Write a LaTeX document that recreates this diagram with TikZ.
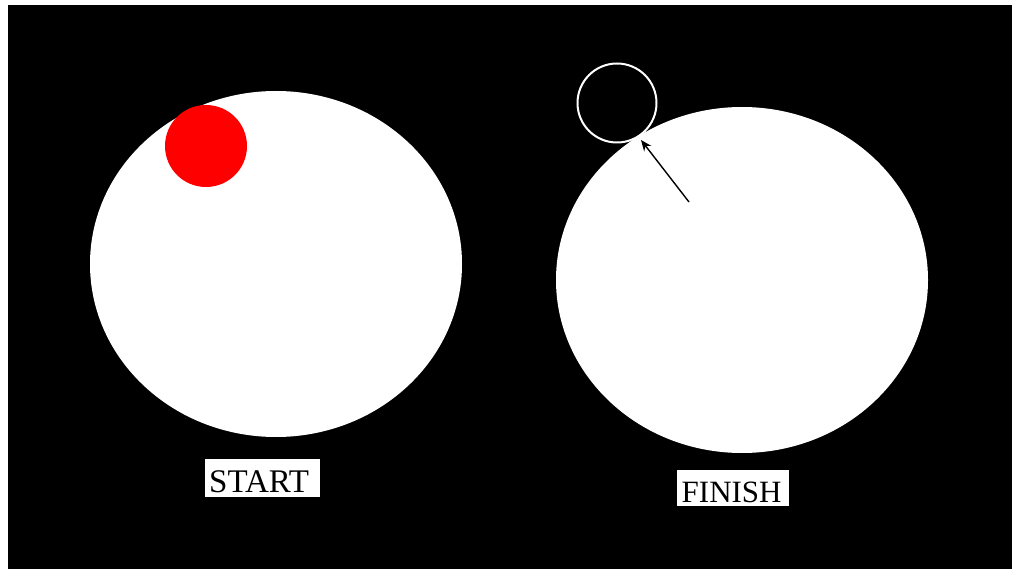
\documentclass[tikz,border=0pt]{standalone}
\usepackage{fontspec}
\setmainfont{Liberation Serif}
\usetikzlibrary{arrows.meta}
\begin{document}
\begin{tikzpicture}[x=1pt,y=-1pt,
  labelbox/.style={fill=white,draw=none,inner sep=0pt,anchor=north west},
  labeltext/.style={inner sep=0pt,anchor=base west,text=black},
  disc/.style={fill=white,draw=none}]
\useasboundingbox (0,0) rectangle (1012,569);
\fill[white] (0,0) rectangle (1012,569);
\fill[black] (8,5) rectangle (1012,569);
% left ellipse
\fill[white] (276,264) ellipse [x radius=186, y radius=173];
\node[circle,fill=red,minimum size=82pt,inner sep=0pt] (red) at (206,146) {};
% right ellipse
\fill[white] (742,280) ellipse [x radius=186, y radius=173];
\node[circle,draw=white,line width=2pt,minimum size=79pt,inner sep=0pt] (ring) at (617,103) {};
\coordinate (tail) at (689,202);
\coordinate (tip) at (641,140);
\draw[black,line width=1.4pt,-{Stealth[length=11pt,width=9pt]}] (tail) -- (tip);
% labels
\node[labelbox,minimum width=115pt,minimum height=38pt] (sbox) at (205,459) {};
\node[labeltext,font=\fontsize{33}{33}\selectfont] (start) at (209,492.5) {START};
\node[labelbox,minimum width=112pt,minimum height=36pt] (fbox) at (677,470) {};
\node[labeltext,font=\fontsize{31}{31}\selectfont] (finish) at (681.5,502.5) {FINISH};
\end{tikzpicture}
\end{document}
